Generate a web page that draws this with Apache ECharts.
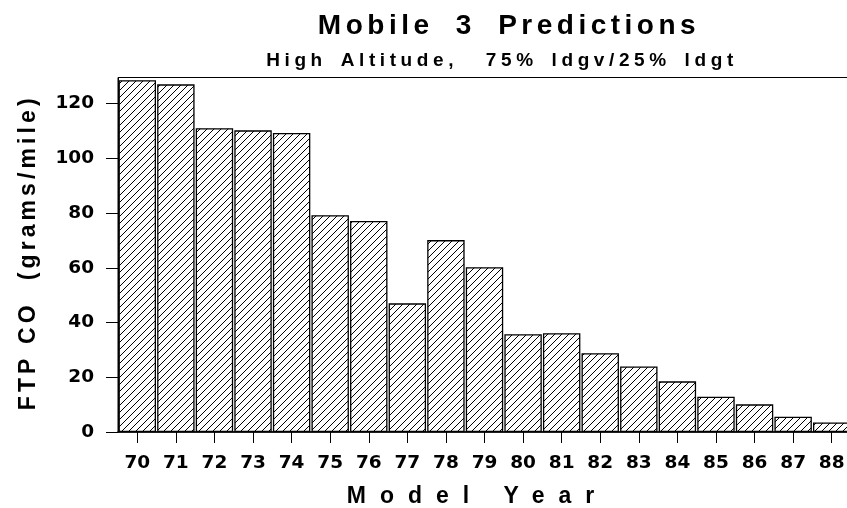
<!DOCTYPE html>
<html>
<head>
<meta charset="utf-8">
<script src="https://cdn.jsdelivr.net/npm/echarts@6/dist/echarts.min.js"></script>
<style>
html, body { margin: 0; padding: 0; background: #ffffff; }
#chart { width: 847px; height: 508px; }
</style>
</head>
<body>
<div id="chart"></div>
<script>
// ---- data ----
const titleText = 'Mobile 3 Predictions';
const subtitleText = 'High Altitude,  75% ldgv/25% ldgt';
const xAxisTitle = 'Model Year';
const yAxisTitle = 'FTP CO  (grams/mile)';
const modelYears = ['70', '71', '72', '73', '74', '75', '76', '77', '78', '79',
                    '80', '81', '82', '83', '84', '85', '86', '87', '88'];
const coValues = [128.5, 127.0, 111.0, 110.2, 109.2, 79.2, 77.1, 47.0, 70.1, 60.2,
                  35.7, 36.1, 28.8, 23.9, 18.5, 12.9, 10.1, 5.6, 3.5];
const yMin = 0;
const yMax = 129.5;
const yStep = 20;

// ---- tracking (letter / word spacing) for the wide stroke-font look ----
const tracking = {};
tracking[titleText] = ['4.5px', '10px'];
tracking[subtitleText] = ['4.6px', '4px'];
tracking[xAxisTitle] = ['14px', '0px'];
tracking[yAxisTitle] = ['4.1px', '0px'];
const origFillText = CanvasRenderingContext2D.prototype.fillText;
CanvasRenderingContext2D.prototype.fillText = function (t, x, y, w) {
  const s = tracking[t] || ['0px', '0px'];
  const hasLS = 'letterSpacing' in this;
  if (hasLS) {
    const f = this.font;
    this.letterSpacing = s[0];
    if ('wordSpacing' in this) this.wordSpacing = s[1];
    this.font = f;
  }
  if (w === undefined) origFillText.call(this, t, x, y); else origFillText.call(this, t, x, y, w);
  if (hasLS) {
    const f2 = this.font;
    this.letterSpacing = '0px';
    if ('wordSpacing' in this) this.wordSpacing = '0px';
    this.font = f2;
  }
};

// ---- hatch pattern ----
function makeHatch() {
  const n = 7;
  const c = document.createElement('canvas');
  c.width = n; c.height = n;
  const g = c.getContext('2d');
  g.fillStyle = '#ffffff';
  g.fillRect(0, 0, n, n);
  g.strokeStyle = '#000000';
  g.lineWidth = 1;
  g.beginPath();
  g.moveTo(-1, n + 1); g.lineTo(n + 1, -1);
  g.moveTo(-1, 1); g.lineTo(1, -1);
  g.moveTo(n - 1, n + 1); g.lineTo(n + 1, n - 1);
  g.stroke();
  return c;
}

const chart = echarts.init(document.getElementById('chart'), null, { renderer: 'canvas' });
const option = {
  animation: false,
  backgroundColor: '#ffffff',
  title: [
    {
      text: titleText, left: 509, top: 12, padding: 0, textAlign: 'center',
      textStyle: { fontFamily: 'Liberation Sans', fontWeight: 'bold', fontSize: 28, color: '#000' }
    },
    {
      text: subtitleText, left: 502, top: 51, padding: 0, textAlign: 'center',
      textStyle: { fontFamily: 'Liberation Sans', fontWeight: 'bold', fontSize: 19, color: '#000' }
    }
  ],
  grid: {
    left: 118, top: 77.5, right: -4, bottom: 76,
    outerBoundsMode: 'none',
    containLabel: false,
    show: true, borderColor: '#000', borderWidth: 1, backgroundColor: 'transparent'
  },
  xAxis: {
    type: 'category',
    data: modelYears,
    name: xAxisTitle,
    nameLocation: 'middle',
    nameGap: 53,
    nameTextStyle: { fontFamily: 'Liberation Sans', fontWeight: 'bold', fontSize: 23, color: '#000', padding: [0, 14, 0, 0] },
    axisLine: { show: true, lineStyle: { color: '#000', width: 1.5 } },
    axisTick: { show: true, alignWithLabel: true, length: 11, lineStyle: { color: '#000', width: 1 } },
    axisLabel: { interval: 0, margin: 22, fontFamily: 'DejaVu Sans', fontWeight: 'bold', fontSize: 18.5, color: '#000' },
    splitLine: { show: false }
  },
  yAxis: {
    type: 'value',
    min: yMin, max: yMax, interval: yStep,
    name: yAxisTitle,
    nameLocation: 'middle',
    nameRotate: 90,
    nameGap: 78,
    nameTextStyle: { fontFamily: 'Liberation Sans', fontWeight: 'bold', fontSize: 23, color: '#000', padding: [0, 0, 0, 5] },
    axisLine: { show: true, lineStyle: { color: '#000', width: 1 } },
    axisTick: { show: true, length: 12, lineStyle: { color: '#000', width: 1 } },
    axisLabel: {
      margin: 24, fontFamily: 'DejaVu Sans', fontWeight: 'bold', fontSize: 18.5, color: '#000',
      showMaxLabel: false
    },
    splitLine: { show: false }
  },
  series: [{
    type: 'bar',
    data: coValues,
    barCategoryGap: '3%',
    itemStyle: {
      color: { image: makeHatch(), repeat: 'repeat' },
      borderColor: '#000',
      borderWidth: 1.3
    }
  }]
};
chart.setOption(option);
</script>
</body>
</html>
